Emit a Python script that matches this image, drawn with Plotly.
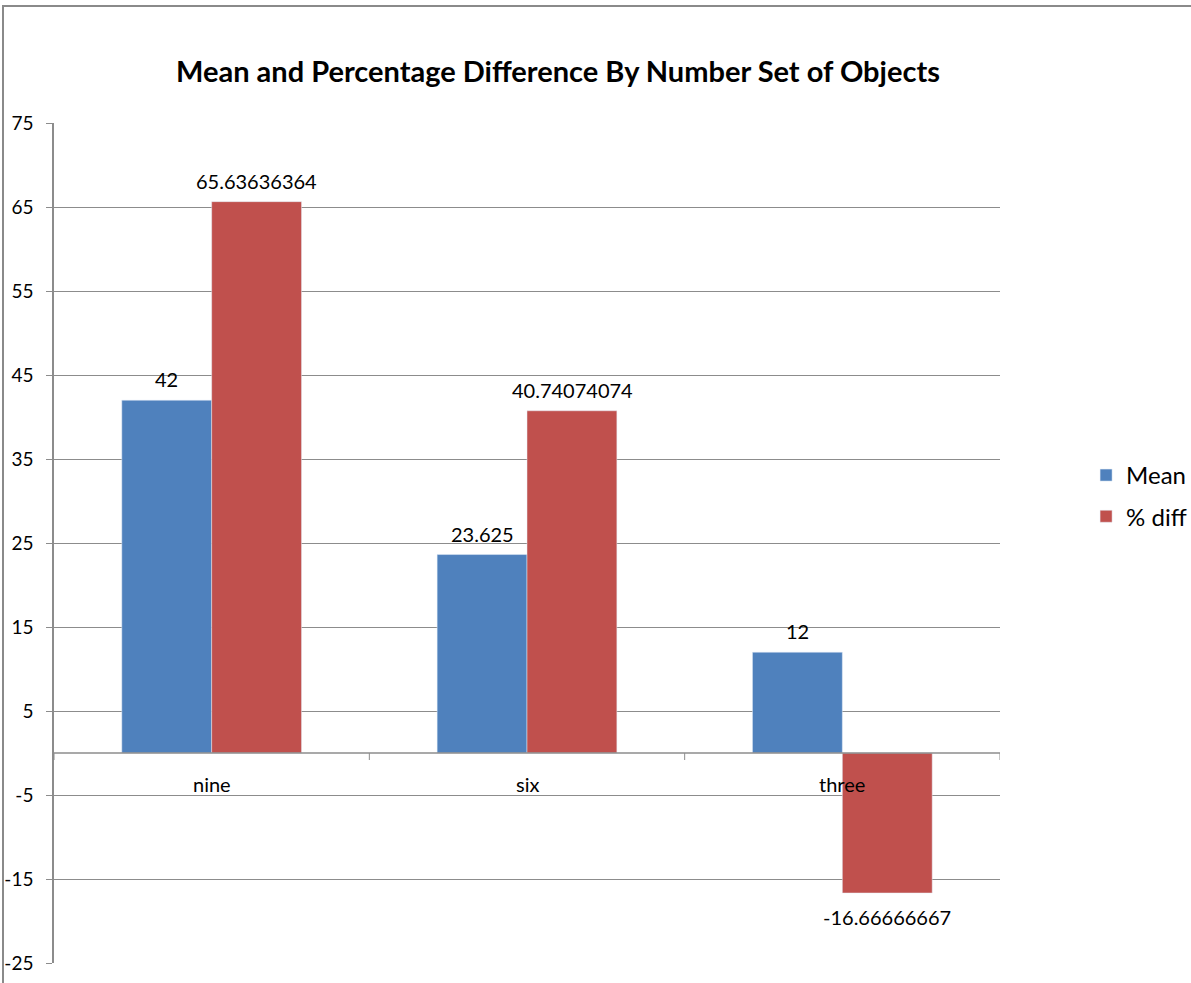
import plotly.graph_objects as go

categories = ["nine", "six", "three"]
mean_vals = [42, 23.625, 12]
diff_vals = [65.63636364, 40.74074074, -16.66666667]
mean_labels = ["42", "23.625", "12"]
diff_labels = ["65.63636364", "40.74074074", "-16.66666667"]
y_ticks = [-25, -15, -5, 5, 15, 25, 35, 45, 55, 65, 75]

BLUE = "#4F81BD"
RED = "#C0504D"
GRID = "#8C8C8C"
FONT = "Lato, Carlito, Calibri, sans-serif"

fig = go.Figure()
fig.add_trace(go.Bar(name="Mean", x=categories, y=mean_vals, marker_color=BLUE,
                     legendgroup="a"))
fig.add_trace(go.Bar(name="% diff", x=categories, y=diff_vals, marker_color=RED,
                     legendgroup="b"))

annotations = []
bar_offset = 45
for cat, v, lab in zip(categories, mean_vals, mean_labels):
    annotations.append(dict(x=cat, y=v, text=lab, showarrow=False, xref="x", yref="y",
                            xshift=-bar_offset, yshift=7 if v >= 0 else -8,
                            yanchor="bottom" if v >= 0 else "top",
                            font=dict(family=FONT, size=20, color="#000")))
for cat, v, lab in zip(categories, diff_vals, diff_labels):
    annotations.append(dict(x=cat, y=v, text=lab, showarrow=False, xref="x", yref="y",
                            xshift=bar_offset, yshift=7 if v >= 0 else -10,
                            yanchor="bottom" if v >= 0 else "top",
                            font=dict(family=FONT, size=20, color="#000")))
for cat in categories:
    annotations.append(dict(x=cat, y=0, text=cat, showarrow=False, xref="x", yref="y",
                            yshift=-31, yanchor="middle",
                            font=dict(family=FONT, size=20, color="#000")))

shapes = []
# category separator ticks on the zero line
for b in [-0.5, 0.5, 1.5, 2.5]:
    shapes.append(dict(type="line", xref="x", yref="y", x0=b, x1=b,
                       ysizemode="pixel", yanchor=0, y0=0, y1=-7,
                       line=dict(color=GRID, width=1)))
# zero line
shapes.append(dict(type="line", xref="paper", yref="y", x0=0, x1=1, y0=0, y1=0,
                   line=dict(color=GRID, width=1.5), layer="above"))
# outer chart border
shapes.append(dict(type="rect", xref="paper", yref="paper",
                   x0=(3 - 54) / 946, x1=(1260 - 54) / 946,
                   y0=(963 - 1050) / 840, y1=(963 - 6) / 840,
                   line=dict(color="#8A8A8A", width=2), fillcolor="rgba(0,0,0,0)"))

fig.update_layout(
    width=1191, height=983,
    margin=dict(l=54, r=191, t=123, b=20, autoexpand=False),
    paper_bgcolor="white", plot_bgcolor="white",
    barmode="group", bargap=0.43, bargroupgap=0,
    title=dict(text="<b>Mean and Percentage Difference By Number Set of Objects</b>",
               x=(558) / 1191, xanchor="center", y=1 - 72 / 983, yanchor="middle",
               font=dict(family=FONT, size=29, color="#000")),
    font=dict(family=FONT, size=20, color="#000"),
    legend=dict(x=1.091, y=0.556, xanchor="left", yanchor="middle",
                font=dict(family=FONT, size=24, color="#000"),
                tracegroupgap=7, traceorder="grouped", itemwidth=30),
    xaxis=dict(showticklabels=False, showgrid=False, zeroline=False, showline=False,
               ticks="", range=[-0.5, 2.5], automargin=False),
    yaxis=dict(range=[-25, 75], tickmode="array", tickvals=y_ticks,
               ticktext=[str(t) for t in y_ticks], automargin=False,
               showgrid=True, gridcolor=GRID, gridwidth=1,
               zeroline=False, showline=True, linecolor=GRID, linewidth=1.5,
               ticks="outside", ticklen=6, tickcolor=GRID, ticklabelstandoff=9,
               tickfont=dict(family=FONT, size=19, color="#000")),
    annotations=annotations, shapes=shapes,
)

fig.write_html("out.html")
